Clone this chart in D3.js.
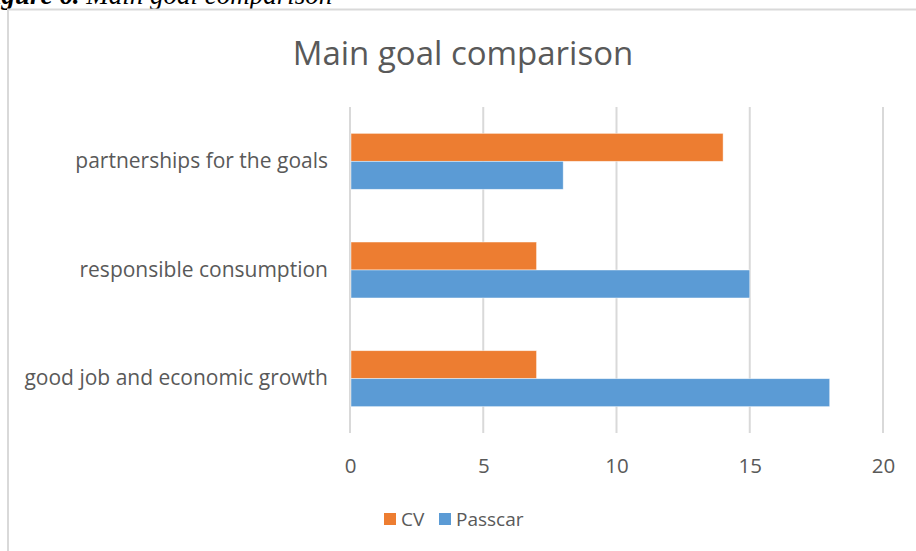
<!DOCTYPE html>
<html>
<head>
<meta charset="utf-8">
<script src="https://cdn.jsdelivr.net/npm/d3@7"></script>
<style>
  body { margin: 0; background: #fff; }
  svg { display: block; }
</style>
</head>
<body>
<div id="chart"></div>
<script>
// data
const categories = ["partnerships for the goals", "responsible consumption", "good job and economic growth"]
const seriesNames = ["CV", "Passcar"]
const cvValues = [14, 7, 7]
const passcarValues = [8, 15, 18]
const xTicks = [0, 5, 10, 15, 20]
const colors = ["#ed7d31", "#5b9bd5"]

const width = 916, height = 551
const plot = {left: 350, right: 883, top: 107, bottom: 433}
const textColor = "#595959"
const font = "'Open Sans', sans-serif"

const rows = categories.map((c, i) => ({
    category: c,
    values: [
        {key: seriesNames[0], value: cvValues[i]},
        {key: seriesNames[1], value: passcarValues[i]}
    ]
}))

const svg = d3.select("#chart").append("svg")
    .attr("width", width)
    .attr("height", height)

// caption of the figure, cut off at the top of the page
const caption = svg.append("text")
    .attr("x", -24)
    .attr("y", 4)
    .attr("font-family", "'Liberation Serif', serif")
    .attr("font-style", "italic")
    .attr("font-size", "27px")
    .attr("fill", "#000")
caption.append("tspan").attr("font-weight", "bold").text("Figure 6. ")
caption.append("tspan").text("Main goal comparison")

// chart frame
svg.append("rect")
    .attr("x", 8)
    .attr("y", 9.5)
    .attr("width", 940)
    .attr("height", 600)
    .attr("fill", "#fff")
    .attr("stroke", "#d9d9d9")
    .attr("stroke-width", 2)

const x = d3.scaleLinear()
    .domain([0, 20])
    .range([plot.left, plot.right])

const y = d3.scaleBand()
    .domain(categories)
    .range([plot.top, plot.bottom])
    .paddingInner(0.485)
    .paddingOuter(0.2425)

const ySub = d3.scaleBand()
    .domain(seriesNames)
    .range([0, y.bandwidth()])

const color = d3.scaleOrdinal()
    .domain(seriesNames)
    .range(colors)

// title
svg.append("text")
    .attr("x", 463)
    .attr("y", 65)
    .attr("text-anchor", "middle")
    .attr("font-family", font)
    .attr("font-size", "33px")
    .attr("fill", textColor)
    .text("Main goal comparison")

// vertical gridlines
svg.append("g")
    .selectAll("line")
    .data(xTicks)
    .join("line")
    .attr("x1", d => x(d))
    .attr("x2", d => x(d))
    .attr("y1", plot.top)
    .attr("y2", plot.bottom)
    .attr("stroke", "#d9d9d9")
    .attr("stroke-width", 2)

// bars
svg.append("g")
    .selectAll("g")
    .data(rows)
    .join("g")
    .attr("transform", d => `translate(0,${y(d.category)})`)
    .selectAll("rect")
    .data(d => d.values)
    .join("rect")
    .attr("x", x(0) + 1)
    .attr("y", d => ySub(d.key))
    .attr("width", d => x(d.value) - x(0) - 1)
    .attr("height", ySub.bandwidth())
    .attr("fill", d => color(d.key))
    .attr("stroke", "#fff")
    .attr("stroke-opacity", 0.6)
    .attr("stroke-width", 0.75)

// x axis labels
const xAxis = svg.append("g")
    .attr("transform", `translate(0,${plot.bottom})`)
    .call(d3.axisBottom(x).tickValues(xTicks).tickSize(0).tickPadding(25))
xAxis.select(".domain").remove()
xAxis.selectAll("text")
    .attr("font-family", font)
    .attr("font-size", "20.5px")
    .attr("fill", textColor)

// category labels
const yAxis = svg.append("g")
    .attr("transform", `translate(${plot.left},0)`)
    .call(d3.axisLeft(y).tickSize(0).tickPadding(22))
yAxis.select(".domain").remove()
yAxis.selectAll("text")
    .attr("font-family", font)
    .attr("font-size", "21px")
    .attr("fill", textColor)

// legend
const legend = svg.append("g")
    .selectAll("g")
    .data(seriesNames)
    .join("g")
    .attr("transform", (d, i) => `translate(${[384, 439][i]},513)`)
legend.append("rect")
    .attr("width", 12)
    .attr("height", 12)
    .attr("fill", d => color(d))
legend.append("text")
    .attr("x", 17)
    .attr("y", 13)
    .attr("font-family", font)
    .attr("font-size", "19px")
    .attr("fill", textColor)
    .text(d => d)
</script>
</body>
</html>
